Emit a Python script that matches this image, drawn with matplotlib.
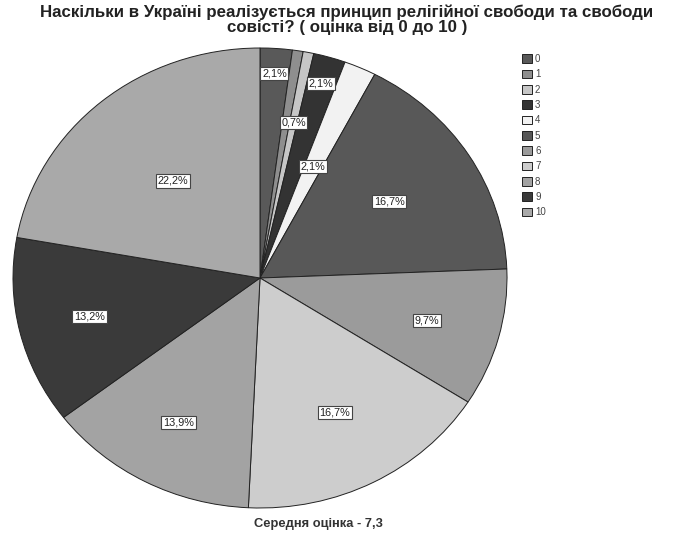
import numpy as np
import matplotlib.pyplot as plt

plt.rcParams['font.family'] = ['Liberation Sans', 'DejaVu Sans']

# дані: оцінки 0..10 та частки (%)
categories = ['0', '1', '2', '3', '4', '5', '6', '7', '8', '9', '10']
shares = [2.1, 0.7, 0.7, 2.1, 2.1, 16.7, 9.7, 16.7, 13.9, 13.2, 22.2]
pct_labels = ['2,1%', None, '0,7%', '2,1%', '2,1%', '16,7%', '9,7%', '16,7%', '13,9%', '13,2%', '22,2%']

title = 'Наскільки в Україні реалізується принцип релігійної свободи та свободи\nсовісті? ( оцінка від 0 до 10 )'
footer = 'Середня оцінка - 7,3'

colors = ['#595959', '#8e8e8e', '#c6c6c6', '#333333', '#f2f2f2', '#585858',
          '#9b9b9b', '#cdcdcd', '#a3a3a3', '#3a3a3a', '#a9a9a9']
label_r = [0.89, 0.0, 0.69, 0.88, 0.53, 0.62, 0.70, 0.66, 0.71, 0.71, 0.55]  # радіус підписів

fig = plt.figure(figsize=(6.79, 5.38), dpi=100)
ax = fig.add_axes([13 / 679, 1 - 508 / 538, 494 / 679, 460 / 538])
wedges, _ = ax.pie(shares, colors=colors, startangle=90, counterclock=False,
                   wedgeprops=dict(edgecolor='#222222', linewidth=0.7))
ax.set_aspect('auto')
ax.set_xlim(-1, 1)
ax.set_ylim(-1, 1)

for w, lab, r in zip(wedges, pct_labels, label_r):
    if lab is None:
        continue
    ang = np.deg2rad((w.theta1 + w.theta2) / 2)
    ax.text(r * np.cos(ang), r * np.sin(ang), lab, ha='center', va='center', fontsize=7.8,
            color='#222222',
            bbox=dict(boxstyle='square,pad=0.15', fc='white', ec='#444444', lw=0.8))

fig.text(347 / 679, 1 - 5 / 538, title, ha='center', va='top', fontsize=12.2, fontweight='bold',
         color='#222222', linespacing=0.95)
fig.text(318 / 679, 1 - 524 / 538, footer, ha='center', va='center', fontsize=9.3,
         fontweight='bold', color='#333333')

leg = fig.legend(wedges, categories, loc='upper left', bbox_to_anchor=(518 / 679, 1 - 50 / 538),
                 frameon=False, fontsize=7, handlelength=1.0, handleheight=1.0,
                 handletextpad=0.35, labelspacing=0.55, borderaxespad=0)
for t in leg.get_texts():
    t.set_color('#444444')

fig.savefig('out.png', dpi=100)
